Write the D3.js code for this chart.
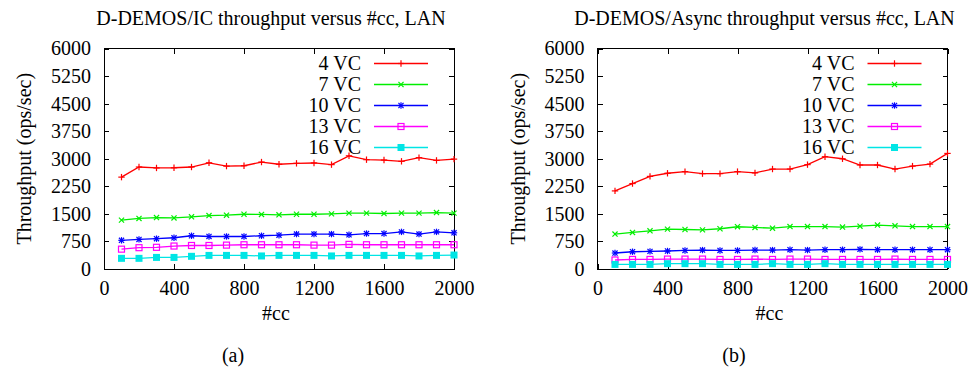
<!DOCTYPE html>
<html lang="en">
<head>
    <meta charset="UTF-8">
    <title>D-DEMOS throughput versus #cc</title>
    <script src="https://d3js.org/d3.v7.min.js"></script>
    <style>
        body { margin: 0; background: #fff; font-family: "Liberation Serif", "DejaVu Serif", serif; }
        svg text { font-family: "Liberation Serif", serif; fill: #000; }
        .axis path, .axis line { stroke: #000; shape-rendering: crispEdges; }
    </style>
</head>
<body>
    <div id="chart"></div>

    <script>
        const cc = [100, 200, 300, 400, 500, 600, 700, 800, 900, 1000,
                    1100, 1200, 1300, 1400, 1500, 1600, 1700, 1800, 1900, 2000];
        const seriesNames = ["4 VC", "7 VC", "10 VC", "13 VC", "16 VC"];
        const xTicks = [0, 400, 800, 1200, 1600, 2000];
        const yTicks = [0, 750, 1500, 2250, 3000, 3750, 4500, 5250, 6000];

        // panel (a) D-DEMOS/IC
        const icVC4  = [2500, 2775, 2750, 2755, 2775, 2890, 2800, 2810, 2910, 2850,
                        2875, 2885, 2840, 3080, 2975, 2965, 2930, 3030, 2955, 2990];
        const icVC7  = [1330, 1375, 1400, 1390, 1420, 1455, 1465, 1490, 1485, 1475,
                        1490, 1490, 1500, 1520, 1520, 1510, 1520, 1520, 1535, 1520];
        const icVC10 = [780, 805, 825, 850, 905, 885, 885, 885, 905, 920,
                        950, 950, 950, 930, 965, 965, 1010, 950, 1010, 985];
        const icVC13 = [540, 580, 590, 625, 640, 640, 650, 660, 660, 660,
                        660, 650, 650, 670, 660, 660, 660, 660, 660, 660];
        const icVC16 = [290, 290, 315, 315, 345, 370, 370, 370, 355, 370,
                        370, 370, 355, 370, 370, 370, 370, 355, 370, 380];

        // panel (b) D-DEMOS/Async
        const asVC4  = [2125, 2325, 2520, 2605, 2650, 2595, 2595, 2650, 2615, 2720,
                        2720, 2840, 3055, 3000, 2830, 2830, 2720, 2800, 2855, 3145];
        const asVC7  = [950, 995, 1040, 1085, 1075, 1065, 1095, 1150, 1130, 1110,
                        1155, 1155, 1155, 1140, 1165, 1195, 1175, 1155, 1155, 1155];
        const asVC10 = [435, 470, 480, 490, 505, 515, 505, 505, 515, 515,
                        525, 515, 525, 525, 535, 525, 525, 525, 525, 525];
        const asVC13 = [245, 260, 260, 270, 270, 270, 260, 260, 270, 260,
                        270, 270, 260, 260, 260, 260, 270, 260, 260, 260];
        const asVC16 = [125, 125, 125, 145, 145, 145, 125, 125, 125, 145,
                        125, 125, 145, 125, 125, 125, 125, 125, 125, 125];

        const colors = ["#ff0000", "#00ee00", "#0000ff", "#ff00ff", "#00e5e5"];
        const markers = ["plus", "cross", "star", "box", "fbox"];

        const panels = [
            { title: "D-DEMOS/IC throughput versus #cc, LAN", label: "(a)", left: 104, labelX: 233,
              series: [icVC4, icVC7, icVC10, icVC13, icVC16] },
            { title: "D-DEMOS/Async throughput versus #cc, LAN", label: "(b)", left: 597.5, labelX: 734,
              series: [asVC4, asVC7, asVC10, asVC13, asVC16] }
        ];

        const plotW = 350, plotTop = 48.5, plotBottom = 269;
        const fs = "20px";

        const svg = d3.select("#chart").append("svg")
            .attr("width", 972)
            .attr("height", 373);

        function drawMarker(g, type, color, cx, cy) {
            const s = 3.2;
            if (type === "plus" || type === "star") {
                g.append("line").attr("x1", cx - s).attr("x2", cx + s).attr("y1", cy).attr("y2", cy)
                    .attr("stroke", color).attr("stroke-width", 1.2);
                g.append("line").attr("x1", cx).attr("x2", cx).attr("y1", cy - s).attr("y2", cy + s)
                    .attr("stroke", color).attr("stroke-width", 1.2);
            }
            if (type === "cross" || type === "star") {
                const d = s * 0.8;
                g.append("line").attr("x1", cx - d).attr("x2", cx + d).attr("y1", cy - d).attr("y2", cy + d)
                    .attr("stroke", color).attr("stroke-width", 1.2);
                g.append("line").attr("x1", cx - d).attr("x2", cx + d).attr("y1", cy + d).attr("y2", cy - d)
                    .attr("stroke", color).attr("stroke-width", 1.2);
            }
            if (type === "box") {
                g.append("rect").attr("x", cx - 3).attr("y", cy - 3).attr("width", 6).attr("height", 6)
                    .attr("fill", "none").attr("stroke", color).attr("stroke-width", 1.2);
            }
            if (type === "fbox") {
                g.append("rect").attr("x", cx - 3.5).attr("y", cy - 3.5).attr("width", 7).attr("height", 7)
                    .attr("fill", color);
            }
        }

        panels.forEach(p => {
            const x = d3.scaleLinear().domain([0, 2000]).range([p.left, p.left + plotW]);
            const y = d3.scaleLinear().domain([0, 6000]).range([plotBottom, plotTop]);
            const g = svg.append("g");

            // frame
            g.append("rect")
                .attr("x", x(0)).attr("y", y(6000))
                .attr("width", x(2000) - x(0)).attr("height", y(0) - y(6000))
                .attr("fill", "none").attr("stroke", "#000").attr("stroke-width", 1)
                .attr("shape-rendering", "crispEdges");

            // axes with inward ticks on all four sides
            const axisFont = g => g.selectAll("text").style("font-size", fs).style("font-family", "Liberation Serif");
            g.append("g").attr("class", "axis")
                .attr("transform", `translate(0,${plotBottom})`)
                .call(d3.axisBottom(x).tickValues(xTicks).tickSize(-5).tickPadding(12).tickFormat(d3.format("d")))
                .call(g => g.select(".domain").remove())
                .call(axisFont);
            g.append("g").attr("class", "axis")
                .attr("transform", `translate(0,${plotTop})`)
                .call(d3.axisTop(x).tickValues(xTicks).tickSize(-5).tickFormat(""))
                .call(g => g.select(".domain").remove());
            g.append("g").attr("class", "axis")
                .attr("transform", `translate(${p.left},0)`)
                .call(d3.axisLeft(y).tickValues(yTicks).tickSize(-5).tickPadding(13).tickFormat(d3.format("d")))
                .call(g => g.select(".domain").remove())
                .call(axisFont);
            g.append("g").attr("class", "axis")
                .attr("transform", `translate(${p.left + plotW},0)`)
                .call(d3.axisRight(y).tickValues(yTicks).tickSize(-5).tickFormat(""))
                .call(g => g.select(".domain").remove());
            g.selectAll(".axis text").attr("fill", "#000");

            // titles
            g.append("text").attr("x", p.left + 167).attr("y", 25)
                .attr("text-anchor", "middle").style("font-size", fs).text(p.title);
            g.append("text").attr("x", x(1000) - 3).attr("y", 320)
                .attr("text-anchor", "middle").style("font-size", fs).text("#cc");
            g.append("text").attr("x", p.labelX).attr("y", 362)
                .attr("text-anchor", "middle").style("font-size", fs).text(p.label);
            g.append("text")
                .attr("transform", `translate(${p.left - 73},${(plotTop + plotBottom) / 2}) rotate(-90)`)
                .attr("text-anchor", "middle").style("font-size", fs).text("Throughput (ops/sec)");

            // series
            const line = d3.line().x((d, i) => x(cc[i])).y(d => y(d));
            p.series.forEach((vals, k) => {
                g.append("path").datum(vals)
                    .attr("d", line)
                    .attr("fill", "none")
                    .attr("stroke", colors[k])
                    .attr("stroke-width", 1.3);
                const mg = g.append("g");
                vals.forEach((v, i) => drawMarker(mg, markers[k], colors[k], x(cc[i]), y(v)));
            });

            // legend
            const lx0 = p.left + 270, lx1 = p.left + 324;
            seriesNames.forEach((name, k) => {
                const ly = 63.5 + k * 21;
                g.append("text").attr("x", p.left + 257).attr("y", ly + 6.5)
                    .attr("text-anchor", "end").style("font-size", fs).text(name);
                g.append("line").attr("x1", lx0).attr("x2", lx1).attr("y1", ly).attr("y2", ly)
                    .attr("stroke", colors[k]).attr("stroke-width", 1.3);
                drawMarker(g, markers[k], colors[k], (lx0 + lx1) / 2, ly);
            });
        });
    </script>
</body>
</html>
